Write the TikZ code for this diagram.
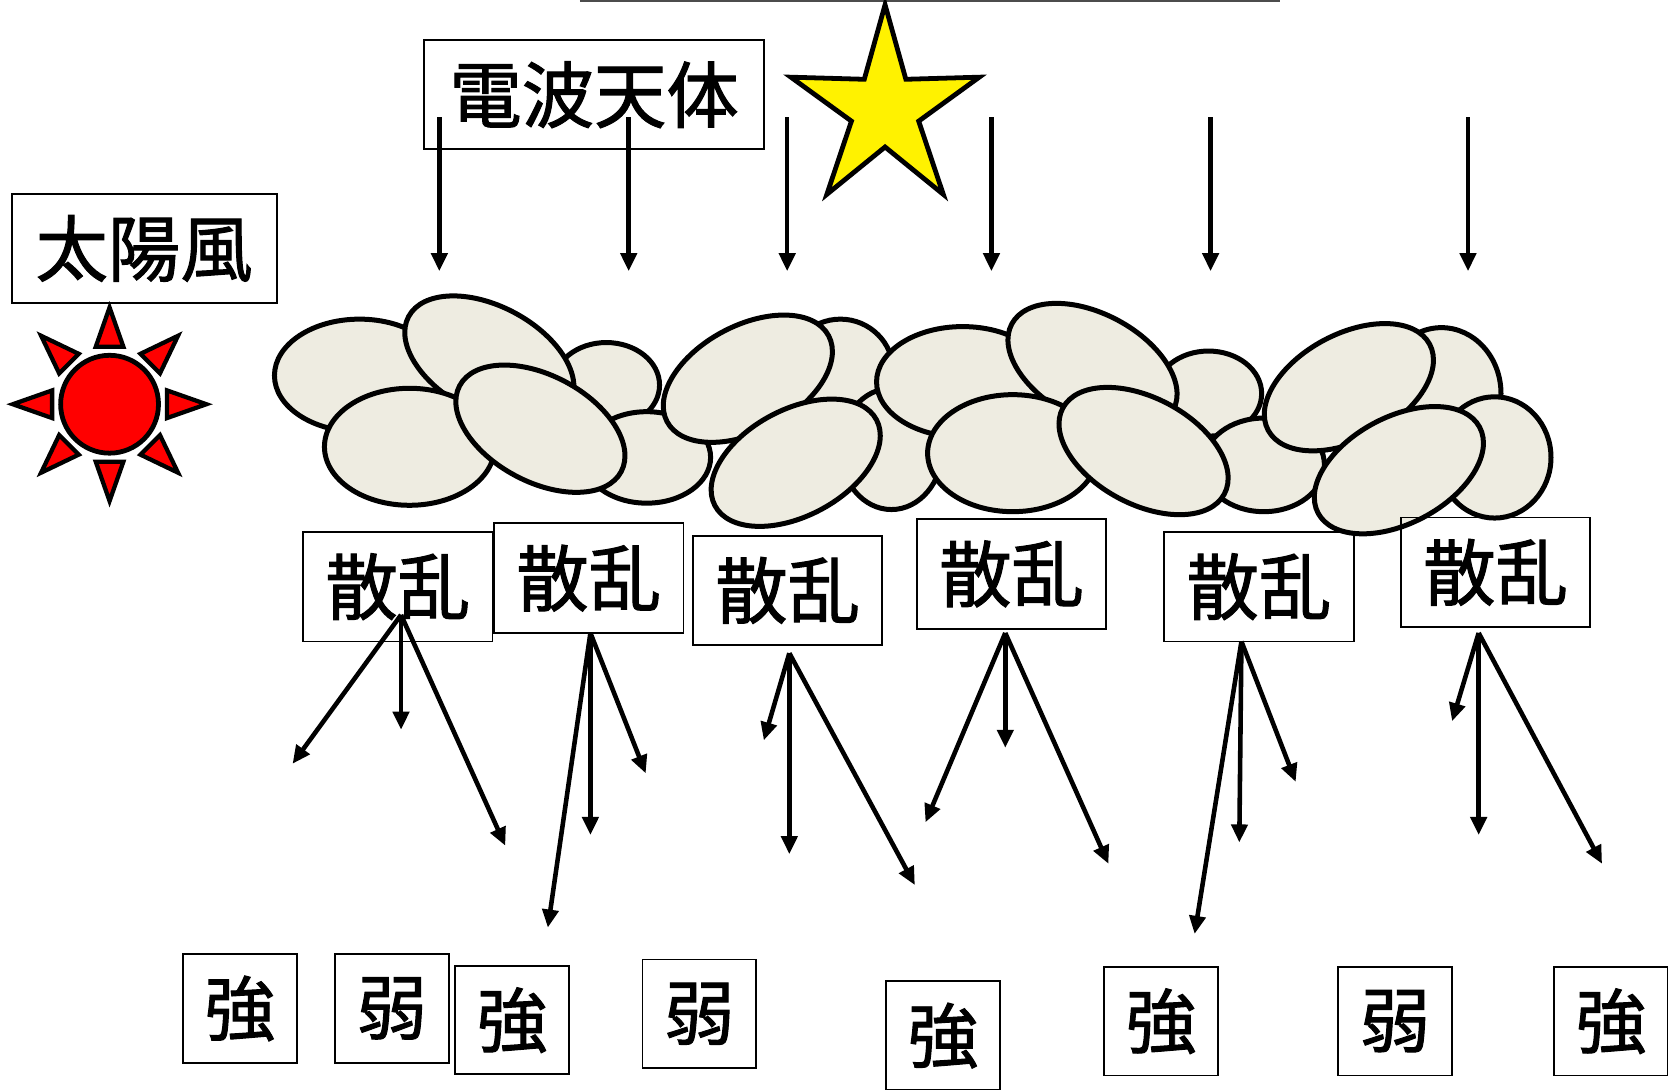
\documentclass[tikz,border=0pt]{standalone}
\usepackage{fontspec}
\newfontfamily\jp{Noto Sans CJK JP}[FakeBold=1.4]
\usetikzlibrary{shapes.geometric,arrows.meta}

\definecolor{cloud}{RGB}{238,236,225}

\begin{document}
\begin{tikzpicture}[x=1pt,y=-1pt,
  lbl/.style={draw,line width=1.8pt,inner sep=0pt,font=\jp\fontsize{68}{68}\selectfont},
  sanbox/.style={lbl,minimum width=178pt,minimum height=103pt},
  strbox/.style={lbl,minimum width=107pt,minimum height=102pt,font=\jp\fontsize{66}{66}\selectfont},
  puff/.style={ellipse,draw,fill=cloud,line width=4.7pt,inner sep=0pt},
  ray/.style={line width=4.3pt,-{Triangle[length=17pt,width=15pt]}}]
  \useasboundingbox (0,0) rectangle (1568,1024);
  \draw[line width=1.8pt,black!70] (545,0.9) -- (1203,0.9);

  % source and wind
  \node[lbl,minimum width=319pt,minimum height=102pt] (src) at (558.5,89) {電波天体};
  \node[lbl,minimum width=249pt,minimum height=103pt] (wind) at (135.5,233.5) {太陽風};
  \begin{scope}[shift={(832,103)},xscale=0.945]
    \node[star,star points=5,star point ratio=2.8,minimum size=197pt,inner sep=0pt,
          draw,fill=yellow,line width=4.5pt,transform shape] (star) at (0,0) {};
  \end{scope}

  \foreach \x [count=\i] in {413,591,740,932,1138,1380} {
    \coordinate (w\i) at (\x,110);
    \coordinate (v\i) at (\x,255);
    \draw[ray] (w\i) -- (v\i);
  }

  % sun
  \node[circle,draw,fill=red,line width=4.5pt,minimum size=92pt,inner sep=0pt] (sun) at (103,380) {};
  \foreach \a in {0,45,...,315}
    \draw[line width=4pt,fill=red,shift={(sun.center)},rotate=\a] (91,0) -- (54,13) -- (54,-13) -- cycle;

  % plasma clouds
  \foreach \n/\x/\y/\w/\h/\r in {c1/338/353/160/106/0, c3/570/362/100/80/0,
      c2/460/338/172/100/-28, c6/608/430/120/86/0, c4/385/420/160/110/0,
      c5/508/403/172/100/-28, c8/790/350/100/100/0, c9/838/422/96/114/0,
      c7/703/356/172/100/28, c10/748/435/172/100/28, c11/905/359/162/104/0,
      c13/1136/370/100/80/0, c12/1027/345/172/100/-28, c14/952/426/160/110/0,
      c16/1188/437/114/88/0, c15/1075/424/172/100/-28, c18/1355/370/112/124/0,
      c17/1268/364/172/100/28, c19/1405/430/106/114/0, c20/1315/442/172/100/28}
    \node[puff,minimum width=\w pt,minimum height=\h pt,rotate=\r] (\n) at (\x,\y) {};

  % scattering
  \node[sanbox] (sA) at (374,551.5) {散乱};
  \node[sanbox] (sB) at (553.5,543.5) {散乱};
  \node[sanbox] (sC) at (740.5,555) {散乱};
  \node[sanbox] (sD) at (951,539.5) {散乱};
  \node[sanbox] (sE) at (1183.5,551.5) {散乱};
  \node[sanbox] (sF) at (1406,538) {散乱};

  \coordinate (oA) at (377,578);
  \coordinate (oB) at (555,595);
  \coordinate (oC) at (742,614);
  \coordinate (oD) at (945,595);
  \coordinate (oE) at (1167,603);
  \coordinate (oF) at (1390,595);
  \foreach \b/\ends in {A/{275/718,377/686,475/795}, B/{515/872,555/785,607/727},
      C/{718/696,742/803,860/832}, D/{870/773,945/703,1042/812},
      E/{1123/878,1165/792,1218/735}, F/{1365/678,1390/785,1506/812}}
    \foreach \x/\y [count=\i] in \ends {
      \coordinate (\b\i) at (\x,\y);
      \draw[ray] (o\b) -- (\b\i);
    }

  % strong / weak
  \node[strbox] (r1) at (225.5,948) {強};
  \node[strbox] (r2) at (368.5,948) {弱};
  \node[strbox] (r3) at (481.5,959) {強};
  \node[strbox] (r4) at (657.5,953) {弱};
  \node[strbox] (r5) at (886.5,973.5) {強};
  \node[strbox] (r6) at (1091.5,960) {強};
  \node[strbox] (r7) at (1311.5,960) {弱};
  \node[strbox] (r8) at (1514.5,960) {強};
\end{tikzpicture}
\end{document}
